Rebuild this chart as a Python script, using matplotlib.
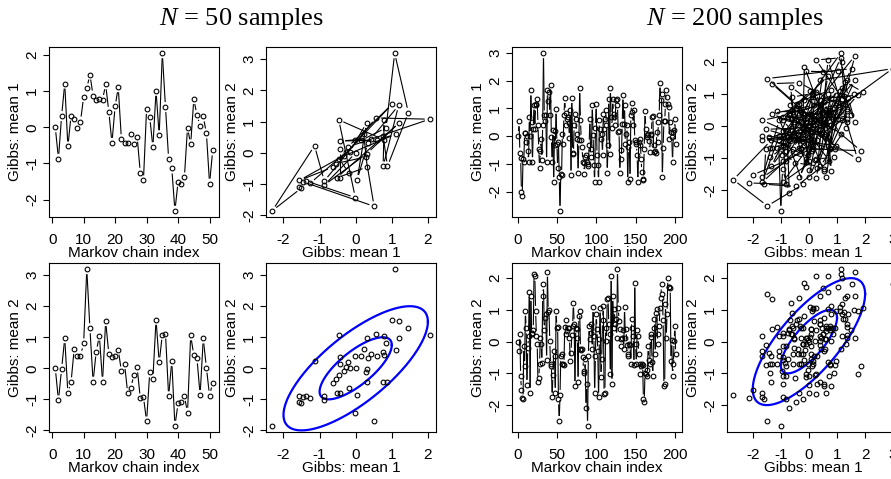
import numpy as np
import matplotlib
matplotlib.use("Agg")
import matplotlib.pyplot as plt
from matplotlib.collections import LineCollection
from matplotlib.transforms import blended_transform_factory, offset_copy

plt.rcParams['font.family'] = ['Liberation Sans', 'DejaVu Sans']
plt.rcParams['axes.unicode_minus'] = False
plt.rcParams['mathtext.fontset'] = 'custom'
plt.rcParams['mathtext.it'] = 'Liberation Serif:italic'
plt.rcParams['mathtext.rm'] = 'Liberation Serif'

# ---------------- data ----------------
m1_50 = [0, -0.87, 0.31, 1.21, -0.53, 0.32, 0.22, -0.02, 0.16, 0.84,
         1.08, 1.46, 0.88, 0.76, 0.79, 0.76, 1.19, 0.43, -0.43, 0.58,
         1.11, -0.33, -0.43, -0.43, -0.19, -0.46, -0.26, -1.26, -1.47, 0.51,
         0.28, -0.55, 1.01, -0.22, 2.05, 0.56, -0.87, -1.14, -2.31, -1.51,
         -1.56, -1.39, -0.01, -0.47, 0.78, 0.34, 0.04, 0.30, -0.17, -1.56,
         -0.64]
m2_50 = [0, -1.03, -0.02, 0.97, -0.80, -0.45, 0.62, 0.41, 0.41, 0.80,
         3.19, 1.29, -0.43, 0.54, 1.05, -0.43, 1.52, 0.46, 0.38, 0.41,
         0.60, -0.10, 0.14, -0.80, -0.63, -0.20, 0.03, -0.97, -0.92, -1.71,
         -0.13, -0.34, 1.56, 0.19, 1.08, 1.12, -0.90, 0.23, -1.85, -1.13,
         -1.10, -0.89, -1.43, 1.06, 0.42, 0.32, -0.86, 0.96, 0.02, -0.88,
         -0.46]

m1_200 = [0, 0.53, -0.6, -0.8, -2.0, -2.15, -0.82, -0.94, 0.12, 0.1,
          -0.2, 0.0, -0.53, -0.94, 0.68, 0.0, 1.64, 0.5, -0.94, 0.26,
          1.13, 0.26, 1.1, 1.17, 1.32, 0.4, -0.48, -1.15, -0.53, -0.1,
          -0.85, 0.4, 2.98, 0.74, 0.53, 0.77, -0.94, 1.64, 1.25, 1.6,
          0.77, 1.85, -0.05, -0.94, 0.2, -1.66, 0.17, -0.34, 0.98, -0.28,
          -1.15, -0.2, -1.48, -2.69, -1.35, -1.4, 0.08, -0.28, 0.74, 1.37,
          0.84, 0.4, 0.62, 0.68, 0.48, -0.07, 0.95, -1.42, 1.37, -0.6,
          -0.64, 0.38, 0.8, 0.62, 0.08, -0.1, -1.34, -0.16, 1.73, 0.56,
          -0.13, -0.4, -0.94, -0.96, -1.37, -0.76, -0.7, -0.94, -1.0, -1.08,
          -0.31, 0.62, -0.76, -0.46, 1.13, 0.05, -1.06, -1.66, 0.29,
          1.16, -0.70, -1.06, -1.66, 0.56, 0.26, -0.10, 0.08, -0.67, 0.80,
          0.26, 0.62, 0.92, 0.38, -1.32, -0.34, 1.34, -0.64, 1.73, 0.68, 0.3,
          1.34, 0.80, 0.68, 0.38, 1.28, 1.34, 1.13, 0.14, 0.17, -1.32,
          -0.52, -0.82, 0.44, 1.49, 0.44, 1.10, -0.28, 0.08, 0.38, -1.66, -0.4,
          -0.22, -1.54, 0.74, 1.20, 0.86, 0.38, 0.92, -0.16, -0.22, -0.28,
          -0.70, -1.66, -0.22, -0.34, -0.10, -0.82, -1.30, -1.54, -1.60, -0.46, 0.9,
          0.26, -0.04, 0.02, 0.08, -0.19, -0.58, 0.05, 0.08, 0.68, 0.72,
          -0.58, -0.34, -0.55, -0.60, 0.14, -0.2,
          0.50, 0.74, 1.92, 1.28, 1.52,
          -1.48, -0.43, 0.53, 0.53, 1.16, 1.64, 1.40, 1.16, 1.04, -0.10, 0.5,
          0.14, -0.04, -0.94, 0.14, 0.20, 0.6, -0.3]
m2_200 = [0, -0.31, 0.23, -1.08, -1.53, -1.78, -1.82, -0.14, -0.77, 0.97,
          0.42, -1.36, -0.21, 0.18, 1.57, -1.61, 1.44, 0.23, 0.28, 0.36,
          2.14, 2.07, 0.97, 0.18, -0.06, -1.26, -1.15, -0.69, 0.13, -0.06,
          -0.66, 1.44, 1.8, 0.36, 0.76, 0.88, -0.59, 2.2, 0.94, 0.99,
          0.02, -0.77, -0.71, -1.76, -1.05, -0.3, -0.45, -1.61, 0.97, 0.44, 0.46,
          -1.82, -2.5, -1.68, -0.45, -0.69, -0.4, -0.71, -0.73, 0.46, 0.23,
          0.67, 0.34, 0.44, 0.42, 0.13, -0.61, -0.35, 0.21, 0.49, 1.23,
          0.55, -1.4, 0.44, 0.39, 0.13, -1.26, 0.81, 0.97, -0.24, -0.27,
          -0.24, -0.5, -0.92, -0.98, -0.56, -2.08, -1.34, -2.65, -0.45, 0.49,
          0.07, 0.28, 0.57, -0.24, 1.09, 0.18, -1.61, -0.45,
          0.86, 0.39, -0.31, -1.76, 0.07, 1.07, -1.11, -0.56, 0.67, 1.13,
          -1.64, -1.61, 0.44, 0.02, 1.33, 1.36, 0.55, 0.23, -1.03, 2.07,
          -1.32, 1.44, 0.44, 1.02, 0.55, 0.7, 0.13, 2.28, 1.07, 0.65,
          0.39, 0.07, -0.14, 0.13, 0.36, -0.24, 1.09, 0.13, 0.39, -0.1,
          -0.45, -0.4, -0.06, -0.1, -0.69, 0.7, 0.42, 0.18, -0.73, 1.86,
          -0.08, -0.71, 0.36, 0.18, -0.38, -0.69, -1.03, -0.77, -0.69, -0.73,
          -1.82, -1.89, -0.98, -1.03, -0.9, -1.08, -0.14, -0.59, -0.71, 0.15,
          0.23, -0.63, -1.08, 0.44, 0.7, -0.4, 0.91, 1.02, -0.06, 0.23,
          0.49, 1.07, 1.39, 1.8, 1.49, 0.67, -1.4, -1.34, 1.18, 0.13,
          0.88, 2.01, 1.72, 1.72, 1.7, -0.61, 0.04, -1.08, -0.71, 0.02,
          0.5, -0.4]

rho = 0.75                 # correlation of the target Gaussian
contour_radii = [1.0, 2.0]  # Mahalanobis radii of the blue contours

titles = ["50", "200"]
xt_idx = [[0, 10, 20, 30, 40, 50], [0, 50, 100, 150, 200]]

# ---------------- figure ----------------
W, H = 891, 479
fig = plt.figure(figsize=(W / 100, H / 100), dpi=100)
FS = 11


def rlim(v):
    lo, hi = min(v), max(v)
    r = hi - lo
    return lo - 0.04 * r, hi + 0.04 * r


def make_ax(box, xlim, ylim, xticks, yticks, xlabel, ylabel):
    x0, y0, x1, y1 = box
    ax = fig.add_axes([x0 / W, 1 - y1 / H, (x1 - x0) / W, (y1 - y0) / H])
    ax.set_xlim(xlim)
    ax.set_ylim(ylim)
    ax.set_xticks(xticks)
    ax.set_yticks(yticks)
    ax.tick_params(direction='out', length=4.3, width=0.8,
                   labelbottom=False, labelleft=False)
    for s in ax.spines.values():
        s.set_linewidth(0.8)
    tx = offset_copy(blended_transform_factory(ax.transData, ax.transAxes),
                     fig=fig, x=0, y=-23, units='dots')
    for t in xticks:
        ax.text(t, 0, f"{t:g}", transform=tx, ha='center', va='center',
                fontsize=FS, clip_on=False)
    ty = offset_copy(blended_transform_factory(ax.transAxes, ax.transData),
                     fig=fig, x=-17, y=0, units='dots')
    for t in yticks:
        ax.text(0, t, f"{t:g}", transform=ty, ha='center', va='center',
                rotation=90, fontsize=FS, clip_on=False)
    fig.text((x0 + x1) / 2 / W, 1 - (y1 + 36) / H, xlabel, ha='center',
             va='center', fontsize=FS)
    fig.text((x0 - 34) / W, 1 - (y0 + y1) / 2 / H, ylabel, ha='center',
             va='center', rotation=90, fontsize=FS)
    return ax


def gapped_lines(ax, x, y, gap=5.0, lw=0.8):
    pts = ax.transData.transform(np.column_stack([x, y]))
    segs = []
    for p, q in zip(pts[:-1], pts[1:]):
        d = q - p
        L = np.hypot(*d)
        if L <= 2 * gap:
            continue
        u = d / L
        segs.append([p + u * gap, q - u * gap])
    inv = ax.transData.inverted()
    segs = [inv.transform(np.array(s)) for s in segs]
    ax.add_collection(LineCollection(segs, colors='black', linewidths=lw))


def points(ax, x, y):
    ax.plot(x, y, 'o', ms=3.4, mfc='none', mec='black', mew=0.8)


def ellipses(ax):
    t = np.linspace(0, 2 * np.pi, 300)
    L = np.linalg.cholesky(np.array([[1, rho], [rho, 1]]))
    for r in contour_radii:
        e = r * (L @ np.vstack([np.cos(t), np.sin(t)]))
        ax.plot(e[0], e[1], color='#0000ff', lw=1.6)


groups = [
    dict(m1=m1_50, m2=m2_50, cols=[(49, 219), (266, 436)], title_x=241),
    dict(m1=m1_200, m2=m2_200, cols=[(512, 682), (727, 899)], title_x=735),
]
rows = [(47, 217), (263, 432)]

for g, grp, xt in zip(range(2), groups, xt_idx):
    m1 = np.array(grp['m1'])
    m2 = np.array(grp['m2'])
    idx = np.arange(1, len(m1) + 1)
    (ax0, ax1), (bx0, bx1) = grp['cols']
    (r0, r1), (s0, s1) = rows
    yt1 = list(range(int(np.ceil(rlim(m1)[0])), int(np.floor(rlim(m1)[1])) + 1))
    yt2 = list(range(int(np.ceil(rlim(m2)[0])), int(np.floor(rlim(m2)[1])) + 1))

    # trace mean 1
    a = make_ax((ax0, r0, ax1, r1), rlim(idx), rlim(m1), xt, yt1,
                "Markov chain index", "Gibbs: mean 1")
    gapped_lines(a, idx, m1)
    points(a, idx, m1)

    # scatter with path
    b = make_ax((bx0, r0, bx1, r1), rlim(m1), rlim(m2), yt1, yt2,
                "Gibbs: mean 1", "Gibbs: mean 2")
    gapped_lines(b, m1, m2)
    points(b, m1, m2)

    # trace mean 2
    c = make_ax((ax0, s0, ax1, s1), rlim(idx), rlim(m2), xt, yt2,
                "Markov chain index", "Gibbs: mean 2")
    gapped_lines(c, idx, m2)
    points(c, idx, m2)

    # scatter with contours
    d = make_ax((bx0, s0, bx1, s1), rlim(m1), rlim(m2), yt1, yt2,
                "Gibbs: mean 1", "Gibbs: mean 2")
    ellipses(d)
    points(d, m1, m2)

    fig.text(grp['title_x'] / W, 1 - 19 / H, r"$N$ = " + titles[g] + " samples",
             fontsize=19, family='Liberation Serif', ha='center', va='center')

fig.savefig("out.png", dpi=100)
